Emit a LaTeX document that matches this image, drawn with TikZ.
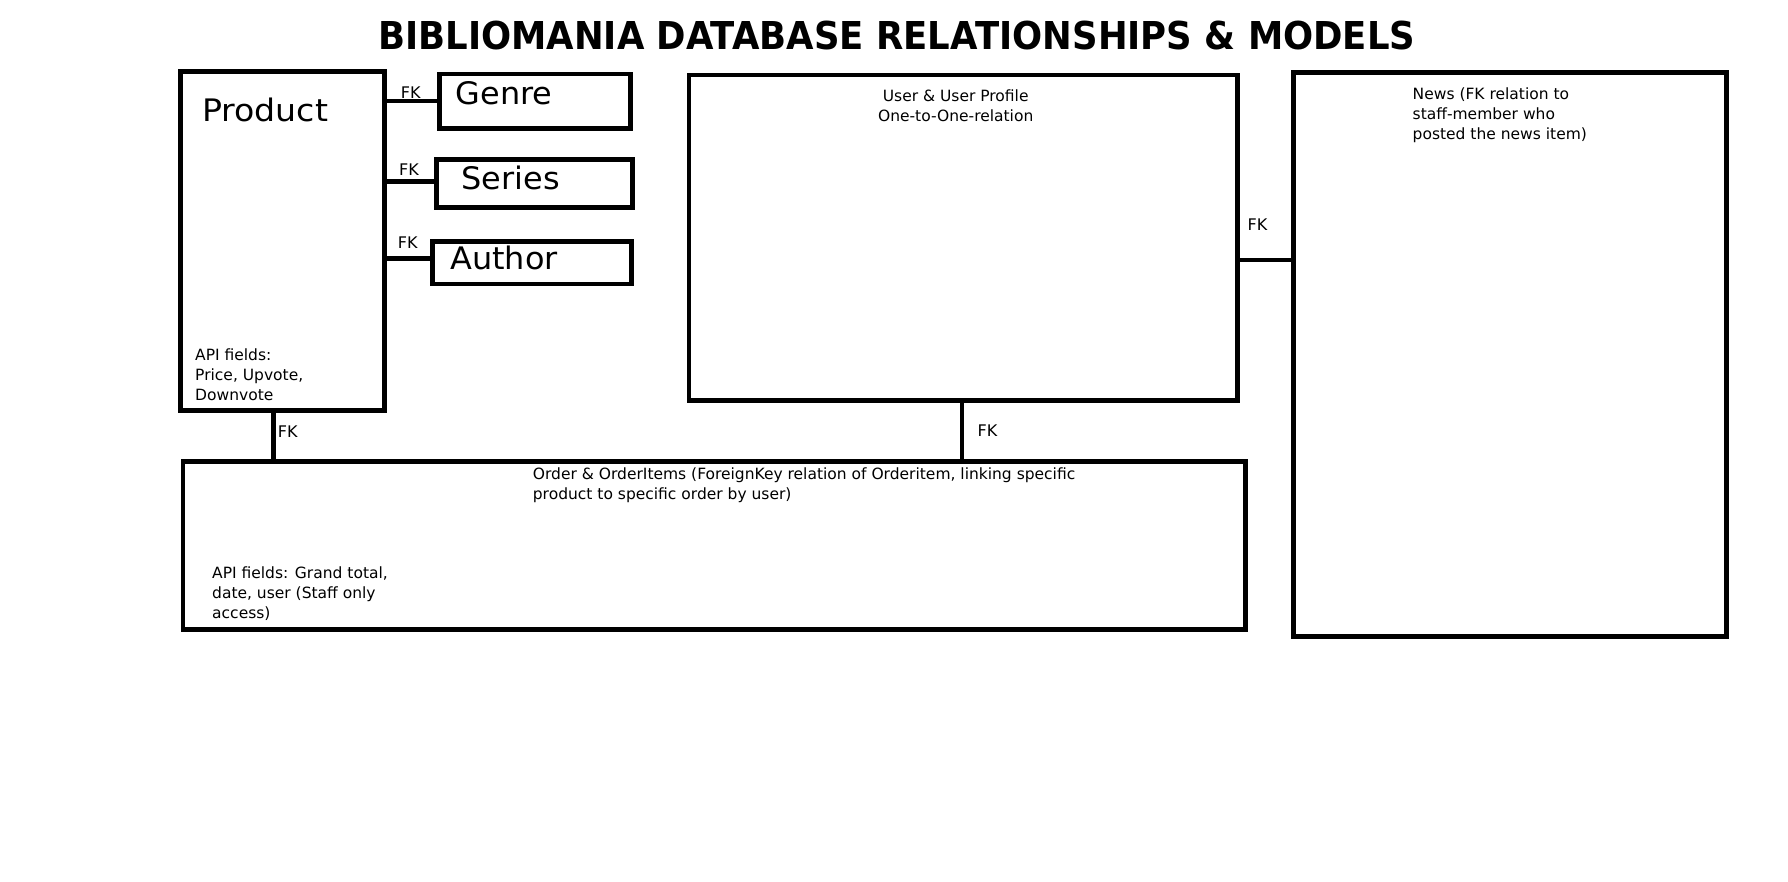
\documentclass[tikz,border=0pt]{standalone}
\usepackage{fontspec}
\usepackage{graphicx}
\setmainfont{DejaVu Sans}
\usetikzlibrary{calc}
\tikzset{
  modelbox/.style={draw=black, line width=4.5pt, rectangle, inner sep=0pt},
  fklink/.style={draw=black, line width=4.5pt},
  bigname/.style={font=\fontsize{31}{37}\selectfont, inner sep=0pt, anchor=base west},
  fklabel/.style={font=\fontsize{16}{19}\selectfont, inner sep=0pt, anchor=base west},
  note/.style={font=\fontsize{15.5}{20}\selectfont, inner sep=0pt, anchor=base west, align=left},
}
\begin{document}
\begin{tikzpicture}[x=1pt,y=-1pt]
\fill[white] (0,0) rectangle (1788,882);
\useasboundingbox (0,0) rectangle (1788,882);

% title
\node[inner sep=0pt, anchor=south west] (title) at (378,50)
  {\resizebox{1037pt}{28.5pt}{\bfseries BIBLIOMANIA DATABASE RELATIONSHIPS \& MODELS}};

% boxes
\node[modelbox, minimum width=204pt, minimum height=338.8pt] (product) at (282.5,241.1) {};
\node[modelbox, minimum width=191pt, minimum height=54.5pt] (genre) at (535,101.05) {};
\node[modelbox, minimum width=195.8pt, minimum height=48pt] (series) at (534.6,183.7) {};
\node[modelbox, minimum width=199.2pt, minimum height=42.5pt] (author) at (532.1,262.95) {};
\node[modelbox, minimum width=548.5pt, minimum height=325.5pt] (user) at (963.25,237.75) {};
\node[modelbox, minimum width=433pt, minimum height=563.8pt] (news) at (1510,354.4) {};
\node[modelbox, minimum width=1062.7pt, minimum height=167.8pt] (order) at (714.15,545.6) {};

% box texts
\node[bigname] (productname) at (202,121.7) {\scalebox{1.07}[1]{Product}};
\node[bigname] (genrename) at (455.5,105) {\scalebox{1.03}[1]{Genre}};
\node[bigname] (seriesname) at (461.5,189.3) {\scalebox{1.03}[1]{Series}};
\node[bigname] (authorname) at (450,270) {\scalebox{1.03}[1]{Author}};

% multi-line notes: anchor is the baseline of the last line
\node[note] (productapi) at (195,400.7) {API fields:\\Price, Upvote,\\Downvote};
\node[note, align=center, anchor=base] (usertext) at (955.7,121.7) {User \& User Profile\\One-to-One-relation};
\node[note] (newstext) at (1412.5,140) {News (FK relation to\\staff-member who\\posted the news item)};
\node[note] (ordertext) at (532.7,499) {Order \& OrderItems (ForeignKey relation of Orderitem, linking specific\\product to specific order by user)};
\node[note] (orderapi) at (212,618.3) {API fields: Grand total,\\date, user (Staff only\\access)};

% connectors
\draw[fklink] (genre.west) -- (genre.west -| product.east);
\draw[fklink] ([yshift=2pt]series.west) -- ([yshift=2pt]series.west -| product.east);
\draw[fklink] ([yshift=4.5pt]author.west) -- ([yshift=4.5pt]author.west -| product.east);
\draw[fklink] ([xshift=-9.2pt]product.south) -- ([xshift=-9.2pt]product.south |- order.north);
\draw[fklink] ([xshift=-1.25pt]user.south) -- ([xshift=-1.25pt]user.south |- order.north);
\draw[fklink] ([yshift=-22.25pt]user.east) -- ([yshift=-22.25pt]user.east -| news.west);

% FK labels
\node[fklabel] (fkgenre) at (400.7,98.3) {FK};
\node[fklabel] (fkseries) at (399,176) {FK};
\node[fklabel] (fkauthor) at (397.7,248.7) {FK};
\node[fklabel] (fkorderprod) at (277.7,437.3) {FK};
\node[fklabel] (fkorderuser) at (977.4,436.7) {FK};
\node[fklabel] (fknews) at (1247.4,230.7) {FK};
\end{tikzpicture}
\end{document}
